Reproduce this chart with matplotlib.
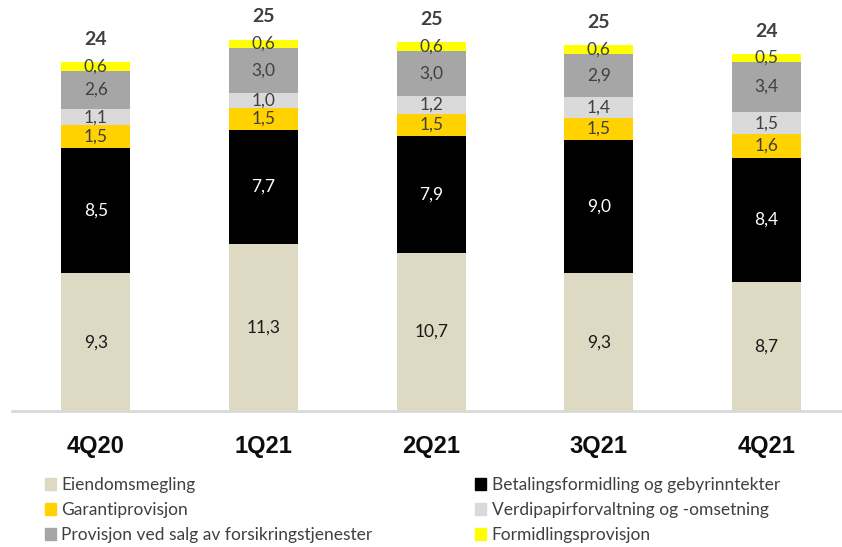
import numpy as np
import matplotlib.pyplot as plt
from matplotlib.patches import Patch

## Data (mrd. kr per quarter)
quarters = ['4Q20', '1Q21', '2Q21', '3Q21', '4Q21']
totals = [24, 25, 25, 25, 24]

eiendom = [9.3, 11.3, 10.7, 9.3, 8.7]
betaling = [8.5, 7.7, 7.9, 9.0, 8.4]
garanti = [1.5, 1.5, 1.5, 1.5, 1.6]
verdipapir = [1.1, 1.0, 1.2, 1.4, 1.5]
forsikring = [2.6, 3.0, 3.0, 2.9, 3.4]
formidling = [0.6, 0.6, 0.6, 0.6, 0.5]

series = [
    ('Eiendomsmegling', eiendom, '#DDD9C3', '#1A1A1A'),
    ('Betalingsformidling og gebyrinntekter', betaling, '#000000', '#FFFFFF'),
    ('Garantiprovisjon', garanti, '#FFD200', '#404040'),
    ('Verdipapirforvaltning og -omsetning', verdipapir, '#DADADA', '#404040'),
    ('Provisjon ved salg av forsikringstjenester', forsikring, '#A6A6A6', '#404040'),
    ('Formidlingsprovisjon', formidling, '#FFFF00', '#404040'),
]

plt.rcParams['font.family'] = ['Lato', 'DejaVu Sans']

fig = plt.figure(figsize=(8.42, 5.47), dpi=100)
ax = fig.add_axes([12/842, 136/547, 830/842, 411/547])

x = np.arange(len(quarters))
width = 0.41
bottom = np.zeros(len(quarters))
for name, vals, color, tcolor in series:
    vals = np.array(vals)
    ax.bar(x, vals, width, bottom=bottom, color=color, label=name, linewidth=0)
    for xi, b, v in zip(x, bottom, vals):
        ax.text(xi, b + v/2, f'{v:.1f}'.replace('.', ','), ha='center', va='center',
                fontsize=12.5, color=tcolor)
    bottom += vals

for xi, top, t in zip(x, bottom, totals):
    ax.text(xi, top + 0.95, str(t), ha='center', va='bottom', fontsize=14,
            fontweight='bold', color='#404040')

ax.set_xlim(-0.5, 4.45)
ax.set_ylim(0, 27.77)
for s in ['top', 'right', 'left']:
    ax.spines[s].set_visible(False)
ax.spines['bottom'].set_color('#D9D9D9')
ax.spines['bottom'].set_linewidth(2)
ax.set_yticks([])
ax.set_xticks(x)
ax.set_xticklabels(quarters, fontsize=17, fontweight='bold', color='#0D0D0D',
                   family=['Liberation Sans Narrow', 'Liberation Sans', 'DejaVu Sans'])
ax.tick_params(axis='x', length=0, pad=17)

# legend, filled row by row
handles = [Patch(color=c, label=n) for n, _, c, _ in series]
order = [0, 2, 4, 1, 3, 5]
leg = fig.legend([handles[i] for i in order], [handles[i].get_label() for i in order],
                 ncol=2, loc='upper left', bbox_to_anchor=(45/842, 1 - 477/547),
                 frameon=False, fontsize=12.5, handlelength=0.65, handleheight=0.65,
                 handletextpad=0.3, columnspacing=5.9, labelspacing=0.52,
                 borderaxespad=0, borderpad=0)
for t in leg.get_texts():
    t.set_color('#404040')

fig.savefig('out.png', dpi=100)
